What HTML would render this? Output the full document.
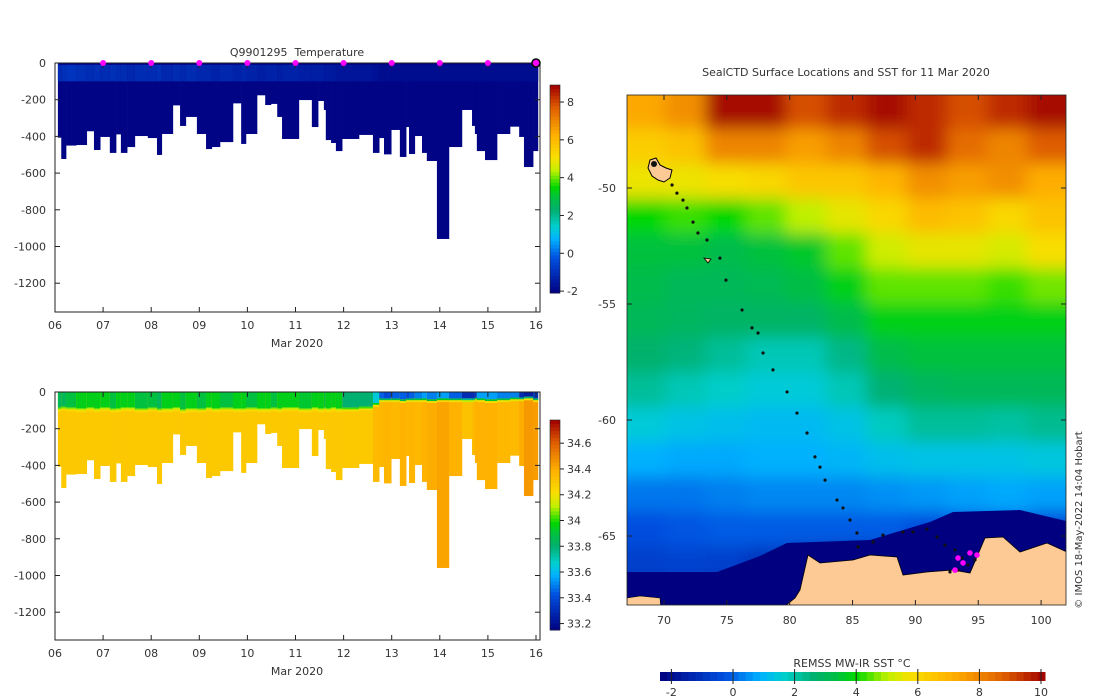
<!DOCTYPE html>
<html><head><meta charset="utf-8"><style>
html,body{margin:0;padding:0;background:#fff;}
svg{display:block;font-family:"DejaVu Sans","Liberation Sans",sans-serif;}
text{fill:#333;font-size:11px;}
</style></head><body>
<svg id="fig" width="1100" height="700" viewBox="0 0 1100 700" xmlns="http://www.w3.org/2000/svg">
<defs>
<filter id="blur" x="-10%" y="-10%" width="120%" height="120%"><feGaussianBlur stdDeviation="8"/></filter>
<clipPath id="mapclip"><rect x="627" y="95" width="439" height="510"/></clipPath>
<clipPath id="p1clip"><rect x="55" y="63" width="485" height="249"/></clipPath>
<clipPath id="p2clip"><rect x="55" y="392" width="485" height="248"/></clipPath>
</defs>
<g id="topPanelG"></g>
<g id="botPanelG"></g>
<g id="mapG"></g>
<text x="1082" y="520" transform="rotate(-90 1082 520)" text-anchor="middle" style="font-size:10px">© IMOS 18-May-2022 14:04 Hobart</text>
</svg>
<script>
// ---- profile data ----
const profTimes=[0.06,0.13,0.23,0.44,0.66,0.81,0.94,1.14,1.27,1.37,1.50,1.66,1.93,2.12,2.22,2.45,2.60,2.72,2.95,3.14,3.26,3.43,3.70,3.87,3.97,4.20,4.37,4.49,4.62,4.72,5.07,5.34,5.47,5.59,5.63,5.74,5.84,5.97,6.32,6.61,6.74,6.84,6.99,7.17,7.30,7.36,7.48,7.63,7.73,7.94,8.19,8.46,8.67,8.73,8.77,8.94,9.19,9.46,9.65,9.75,9.94];
const profEnd=10.04;
const profDepths=[407,523,450,447,372,474,403,490,389,490,458,398,409,501,387,231,343,294,387,469,458,431,220,441,387,176,229,223,294,414,202,349,207,256,420,436,480,414,392,490,409,498,365,512,349,496,398,490,534,959,458,256,343,387,480,529,387,347,403,567,480];
const tempSurf=[-1.1,-1.0,-0.9,-1.0,-1.1,-1.0,-1.1,-1.0,-1.1,-1.1,-1.2,-1.1,-1.1,-1.0,-1.2,-1.1,-1.2,-1.1,-1.2,-1.2,-1.3,-1.2,-1.3,-1.2,-1.3,-1.4,-1.3,-1.3,-1.4,-1.3,-1.4,-1.4,-1.4,-1.5,-1.5,-1.5,-1.6,-1.6,-1.6,-1.7,-1.8,-1.8,-1.8,-1.8,-1.8,-1.8,-1.8,-1.8,-1.8,-1.8,-1.8,-1.8,-1.8,-1.8,-1.8,-1.8,-1.8,-1.8,-1.8,-1.8,-1.8];
const tempDeep=-2.0;
const salSurf=[33.85,33.85,33.9,33.95,33.95,33.95,33.95,33.9,33.95,33.95,33.95,33.9,33.9,33.85,33.95,33.95,33.9,33.95,33.9,33.95,33.95,33.9,33.95,33.95,33.9,33.95,33.95,33.9,33.95,33.95,33.92,33.95,33.95,33.9,33.95,33.95,33.95,33.8,33.8,33.65,33.45,33.4,33.45,33.45,33.4,33.45,33.5,33.55,33.5,33.55,33.45,33.3,33.3,33.35,33.55,33.55,33.5,33.5,33.3,33.25,33.35];
const salMld=[85,80,85,90,85,90,85,90,90,85,85,90,85,90,90,85,95,90,90,85,90,85,90,90,85,90,90,85,90,85,90,85,90,85,90,85,90,85,80,60,35,35,35,40,35,35,35,35,40,35,35,35,35,30,35,40,35,30,30,25,35];
const salDeep=[34.3,34.3,34.3,34.3,34.3,34.3,34.3,34.3,34.3,34.3,34.3,34.3,34.3,34.3,34.3,34.3,34.3,34.3,34.3,34.3,34.3,34.3,34.3,34.3,34.3,34.3,34.3,34.3,34.3,34.3,34.3,34.3,34.3,34.3,34.3,34.3,34.3,34.3,34.3,34.35,34.36,34.37,34.36,34.38,34.37,34.37,34.36,34.38,34.4,34.42,34.38,34.32,34.35,34.38,34.38,34.38,34.36,34.35,34.4,34.45,34.44];
const dayTicks=["06","07","08","09","10","11","12","13","14","15","16"];
const depthTicks=[0,-200,-400,-600,-800,-1000,-1200];
const tempCbarTicks=[-2,0,2,4,6,8];
const salCbarTicks=[33.2,33.4,33.6,33.8,34,34.2,34.4,34.6];
const dropTimes=[1,2,3,4,5,6,7,8,9];
// ---- map data ----
const sstLons=[68.5,71.7,74.9,78.1,81.3,84.5,87.7,90.9,94.1,97.3,100.5];
const sstLats=[-46.7,-48.2,-49.7,-51.2,-52.7,-54.2,-55.7,-57.2,-58.7,-60.2,-61.7,-63.2,-64.7,-66.2,-67.7];
const sstGrid=[
[7.3,7.8,10,10,9,9.5,10,9.5,9,9.5,10],
[6.3,6.6,8,8,7.5,8,9,9.5,8.5,8,8.8],
[5.6,5.6,5.8,6,6.5,6.5,7,7.8,7.5,7.8,7.2],
[4,4.3,4,4.5,5,5.5,6,6.8,6.6,6,6.6],
[3.4,3.4,3.2,3.4,3.6,4.5,5.2,5.5,5.5,5.3,5.8],
[3.2,3,3,3.1,3.3,3.8,4.5,4.5,4.5,4.3,4.6],
[3,2.9,2.8,2.8,2.8,3.2,3.8,3.8,3.8,3.8,3.8],
[2.7,2.5,2.2,1.9,1.9,2.4,3.2,3.4,3.4,3.4,3.4],
[2.2,1.9,1.7,1.5,1.5,1.9,2.6,2.9,3,3,3],
[1.5,1.3,1.2,1.1,1.1,1.3,1.8,2.2,2.2,2.1,2.3],
[0.9,0.8,0.8,0.9,0.9,1,1.2,1.3,1.3,1.3,1.4],
[0.2,0.2,0.3,0.4,0.4,0.4,0.5,0.6,0.7,0.8,0.7],
[-0.3,-0.2,-0.1,-0.1,-0.1,-0.1,-0.1,-0.3,-0.1,0,-0.4],
[-0.7,-0.6,-0.7,-1,-1.5,-2,-2,-2,-2,-2,-1.5],
[-2,-2,-2,-2,-2,-2,-2,-2,-2,-2,-2]];
const trackLon=[70.64,71.03,71.51,71.83,72.31,72.70,73.42,74.45,74.93,76.21,77.00,77.48,77.88,78.67,79.79,80.58,81.38,82.01,82.41,82.81,83.76,84.24,84.80,85.35,85.43,86.63,87.42,89.01,89.81,90.92,91.72,92.35,93.15,93.71,94.18,93.39,94.74,92.75];
const trackLat=[-49.87,-50.22,-50.52,-50.86,-51.47,-51.94,-52.24,-53.02,-53.97,-55.26,-56.03,-56.25,-57.11,-57.84,-58.79,-59.70,-60.56,-61.59,-62.03,-62.59,-63.45,-63.79,-64.31,-64.87,-65.47,-65.26,-64.96,-64.83,-64.83,-64.70,-65.04,-65.39,-65.60,-65.95,-66.25,-66.47,-66.03,-66.55];
const latestLon=[93.39,93.79,94.90,93.15,94.34];
const latestLat=[-65.95,-66.16,-65.82,-66.47,-65.73];
const lonTicks=[70,75,80,85,90,95,100];
const latTicks=[-50,-55,-60,-65];
const sstCbarTicks=[-2,0,2,4,6,8,10];

const NS="http://www.w3.org/2000/svg";
function mk(parent,tag,attrs,txt){const e=document.createElementNS(NS,tag);for(const k in attrs)e.setAttribute(k,attrs[k]);if(txt!==undefined)e.textContent=txt;parent.appendChild(e);return e;}
const stops=[[0,[0,0,128]],[0.17,[0,80,224]],[0.26,[0,176,255]],[0.32,[0,208,208]],[0.40,[0,176,112]],[0.46,[0,192,64]],[0.51,[0,216,0]],[0.59,[192,240,0]],[0.65,[248,224,0]],[0.76,[255,176,0]],[0.89,[224,96,0]],[1,[160,0,0]]];
function cmap(f){f=Math.max(0,Math.min(1,f));for(let i=1;i<stops.length;i++){if(f<=stops[i][0]){const a=stops[i-1],b=stops[i];const t=(f-a[0])/(b[0]-a[0]);const c=a[1].map((v,j)=>Math.round(v+(b[1][j]-v)*t));return `rgb(${c[0]},${c[1]},${c[2]})`;}}return 'rgb(160,0,0)';}

// ---- profile panels ----
const xT=t=>55+t*48.1;
function panel(g,y0,yBot,clip,drawFn,cb){
  const yD=d=>y0+d*0.1835;
  const gc=mk(g,'g',{'clip-path':`url(#${clip})`});
  drawFn(gc,yD);
  mk(g,'rect',{x:55,y:y0,width:485,height:yBot-y0,fill:'none',stroke:'#222','stroke-width':1});
  dayTicks.forEach((lab,i)=>{const x=xT(i);
    mk(g,'line',{x1:x,x2:x,y1:yBot,y2:yBot-5,stroke:'#222'});
    mk(g,'line',{x1:x,x2:x,y1:y0,y2:y0+5,stroke:'#222'});
    const t=mk(g,'text',{x:x,y:yBot+17,'text-anchor':'middle'},lab);
    
    
  });
  depthTicks.forEach(v=>{const y=yD(-v);
    mk(g,'line',{x1:55,x2:60,y1:y,y2:y,stroke:'#222'});
    mk(g,'line',{x1:540,x2:535,y1:y,y2:y,stroke:'#222'});
    const t=mk(g,'text',{x:46,y:y+4,'text-anchor':'end'},String(v));
    
    
  });
  const xl=mk(g,'text',{x:297,y:yBot+35,'text-anchor':'middle'},'Mar 2020');
  
  
  const cg=mk(g,'g',{});
  
  
  const n=60;
  for(let i=0;i<n;i++){const f0=i/n;const h=(cb.bot-cb.top)/n;
    mk(cg,'rect',{x:550,y:cb.bot-(i+1)*h,width:10,height:h+0.5,fill:cmap(f0+0.5/n)});}
  mk(cg,'rect',{x:550,y:cb.top,width:10,height:cb.bot-cb.top,fill:'none',stroke:'#222','stroke-width':0.6});
  cb.ticks.forEach(v=>{const y=cb.bot-(v-cb.min)/(cb.max-cb.min)*(cb.bot-cb.top);
    mk(cg,'line',{x1:560,x2:564,y1:y,y2:y,stroke:'#222'});
    const t=mk(cg,'text',{x:567,y:y+4},String(v));
    
    
  });
}
const TMIN=-2.1,TMAX=8.9,SMIN=33.15,SMAX=34.78;
const topPanel=document.getElementById('topPanelG');
panel(topPanel,63,312,'p1clip',(gc,yD)=>{
  profTimes.forEach((t,i)=>{const x0=xT(t),x1=xT(i+1<profTimes.length?profTimes[i+1]:profEnd);
    const r=mk(gc,'rect',{x:x0,y:yD(0),width:x1-x0+0.3,height:yD(profDepths[i])-yD(0),fill:cmap((tempDeep-TMIN)/(TMAX-TMIN))});
    
    
    mk(gc,'rect',{x:x0,y:yD(10),width:x1-x0+0.3,height:yD(Math.min(100,profDepths[i]))-yD(10),fill:cmap((tempSurf[i]-TMIN)/(TMAX-TMIN))});
  });
},{name:'temperature-colorbar',top:85,bot:293,min:TMIN,max:TMAX,ticks:tempCbarTicks});
const tt=mk(topPanel,'text',{x:297,y:56,'text-anchor':'middle','font-size':'12','style':'white-space:pre'},'Q9901295  Temperature');


dropTimes.forEach(t=>{const c=mk(topPanel,'circle',{cx:xT(t),cy:63,r:3,fill:'#ff00ff'});
  
  });
mk(topPanel,'circle',{cx:xT(profEnd-0.04),cy:63,r:4,fill:'#ff00ff',stroke:'#000','stroke-width':1.5});

const botPanel=document.getElementById('botPanelG');
panel(botPanel,392,640,'p2clip',(gc,yD)=>{
  profTimes.forEach((t,i)=>{const x0=xT(t),x1=xT(i+1<profTimes.length?profTimes[i+1]:profEnd),w=x1-x0+0.3;
    const d=profDepths[i],m=salMld[i];
    const r=mk(gc,'rect',{x:x0,y:yD(0),width:w,height:yD(d)-yD(0),fill:cmap((salDeep[i]-SMIN)/(SMAX-SMIN))});
    
    
    const fS=(salSurf[i]-SMIN)/(SMAX-SMIN),fD=(salDeep[i]-SMIN)/(SMAX-SMIN);
    mk(gc,'rect',{x:x0,y:yD(0),width:w,height:yD(m)-yD(0),fill:cmap(fS)});
    mk(gc,'rect',{x:x0,y:yD(m),width:w,height:yD(m+10)-yD(m),fill:cmap(fS+(fD-fS)*0.45)});
    mk(gc,'rect',{x:x0,y:yD(m+10),width:w,height:yD(m+20)-yD(m+10),fill:cmap(fS+(fD-fS)*0.8)});
  });
},{name:'salinity-colorbar',top:420,bot:630,min:SMIN,max:SMAX,ticks:salCbarTicks});

// ---- map ----
const mapG=document.getElementById('mapG');
const xL=lon=>664+(lon-70)*12.57, yL=lat=>188+(-50-lat)*23.2;
const MMIN=-2.37,MMAX=10.13;
const mc=mk(mapG,'g',{'clip-path':'url(#mapclip)'});
const bgG=mk(mc,'g',{filter:'url(#blur)'});
const dLon=sstLons[1]-sstLons[0], dLat=sstLats[0]-sstLats[1];
sstGrid.forEach((row,r)=>row.forEach((v,c)=>{
  let x0=xL(sstLons[c]-dLon/2),x1=xL(sstLons[c]+dLon/2),y0=yL(sstLats[r]+dLat/2),y1=yL(sstLats[r]-dLat/2);
  if(c===0)x0-=40; if(c===row.length-1)x1+=40; if(r===0)y0-=40; if(r===sstGrid.length-1)y1+=40;
  const e=mk(bgG,'rect',{x:x0,y:y0,width:x1-x0+1,height:y1-y0+1,fill:cmap((v-MMIN)/(MMAX-MMIN))});
  
  
}));
const ice=mk(mc,'polygon',{points:'600,572 717,572 760,556 787,543 870,540 930,522 953,512 1020,510 1070,522 1070,610 600,610',fill:'#000080'});


const land=mk(mc,'polygon',{points:'780,610 795,598 800,590 808,555 820,563 853,560 870,555 897,557 903,575 927,572 953,570 970,573 985,538 1003,537 1020,552 1047,543 1067,552 1070,610',fill:'#fdca96',stroke:'#000','stroke-width':0.8});


mk(mc,'polygon',{points:'627,598 640,596 660,598 661,610 627,610',fill:'#fdca96',stroke:'#000','stroke-width':0.6});
const kg=mk(mc,'polygon',{points:'650,160 656,158 660,165 666,168 672,170 670,178 664,182 658,180 652,176 648,168',fill:'#fdca96',stroke:'#000','stroke-width':1});


mk(mc,'circle',{cx:654,cy:164,r:3,fill:'#111'});
mk(mc,'polygon',{points:'704,258 711,259 708,263',fill:'#fdca96',stroke:'#000','stroke-width':0.8});
trackLon.forEach((lon,i)=>{const c=mk(mc,'circle',{cx:xL(lon),cy:yL(trackLat[i]),r:1.6,fill:'#111'});
  
  });
latestLon.forEach((lon,i)=>{const c=mk(mc,'circle',{cx:xL(lon),cy:yL(latestLat[i]),r:2.8,fill:'#ff00ff'});
  
  });
mk(mapG,'rect',{x:627,y:95,width:439,height:510,fill:'none',stroke:'#222','stroke-width':0.8});
lonTicks.forEach(v=>{const x=xL(v);
  mk(mapG,'line',{x1:x,x2:x,y1:605,y2:600,stroke:'#222'});
  mk(mapG,'line',{x1:x,x2:x,y1:95,y2:100,stroke:'#222'});
  const t=mk(mapG,'text',{x:x,y:624,'text-anchor':'middle'},String(v));
  
  });
latTicks.forEach(v=>{const y=yL(v);
  mk(mapG,'line',{x1:627,x2:632,y1:y,y2:y,stroke:'#222'});
  mk(mapG,'line',{x1:1066,x2:1061,y1:y,y2:y,stroke:'#222'});
  const t=mk(mapG,'text',{x:616,y:y+4,'text-anchor':'end'},String(v));
  
  });
const mt=mk(mapG,'text',{x:846,y:76,'text-anchor':'middle'},'SealCTD Surface Locations and SST for 11 Mar 2020');


const scb=mk(mapG,'g',{});


const N=54,cx0=660,cx1=1045;
for(let i=0;i<N;i++){const w=(cx1-cx0)/N;mk(scb,'rect',{x:cx0+i*w,y:672,width:w+0.5,height:9,fill:cmap((i+0.5)/N)});}
sstCbarTicks.forEach(v=>{const x=cx0+(v-MMIN)/(MMAX-MMIN)*(cx1-cx0);
  mk(scb,'line',{x1:x,x2:x,y1:669,y2:684,stroke:'#222'});
  const t=mk(scb,'text',{x:x,y:696,'text-anchor':'middle'},String(v));
  
  });
const st=mk(scb,'text',{x:852,y:667,'text-anchor':'middle'},'REMSS MW-IR SST °C');


</script>
</body></html>
